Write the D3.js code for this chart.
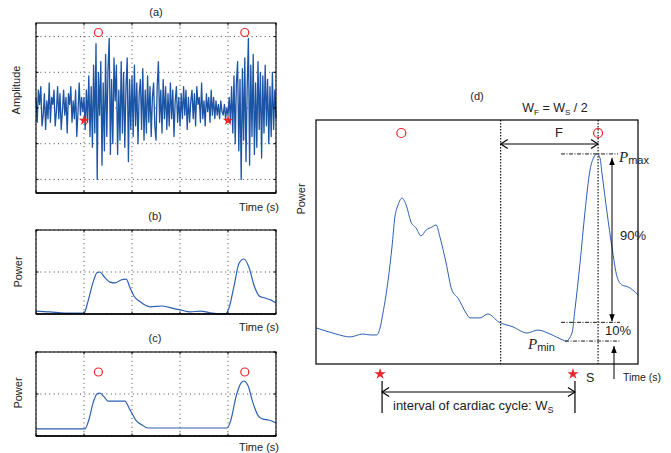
<!DOCTYPE html>
<html>
<head>
<meta charset="utf-8">
<script src="https://cdn.jsdelivr.net/npm/d3@7"></script>
<style>
  body { margin: 0; background: #fff; }
  svg { display: block; font-family: "Liberation Sans", Arial, sans-serif; }
</style>
</head>
<body>
<div id="chart"></div>
<script>
// (a) raw signal, one sample every aStep seconds
const aStep = 0.025;
const aAmp = [
  0.3,-0.4,0.5,0.1,0.6,-0.5,-0.2,0.4,-0.6,0.2,
  -0.3,0.7,-0.4,0.3,0.1,0.5,-0.5,-0.1,0.6,-0.3,
  0.4,-0.6,-0.1,0.5,-0.2,0.3,-0.7,0.4,0.1,0.6,
  -0.4,0.2,-0.3,0.5,-0.8,-0.1,0.7,-0.2,0.3,-0.1,
  0.3,-0.6,0.5,-0.4,0.9,-0.8,0.6,-1.1,1.2,-0.7,
  1.8,-2.0,1.0,-0.2,1.3,-1.6,0.7,-1.2,1.5,-0.8,
  1.1,1.95,-1.3,0.8,-1.0,1.4,0.2,1.2,-1.3,0.5,
  -0.9,1.3,-0.7,1.0,-1.1,0.6,1.4,-1.5,0.8,-0.6,
  0.9,-0.8,1.2,-0.5,0.7,-1.0,0.4,0.8,-0.6,1.1,
  -0.9,0.5,-0.7,0.9,-0.4,0.6,-0.8,0.3,0.7,-0.5,
  -0.9,0.6,1.3,-0.4,0.5,-0.7,0.8,-0.3,0.6,-0.6,
  0.4,-0.5,0.7,-0.3,0.5,-0.8,0.2,0.6,-0.4,0.3,
  -0.5,0.4,-0.3,0.6,-0.2,0.5,-0.6,0.3,-0.4,0.2,
  0.5,-0.3,0.4,-0.5,0.6,0.1,0.3,-0.4,0.7,-0.3,
  0.2,-0.5,0.4,-0.1,0.3,-0.4,0.5,-0.2,0.3,-0.3,
  0.2,-0.2,0.1,-0.3,0.2,-0.1,-0.2,0.1,-0.3,0.0,
  -0.2,0.3,-0.4,0.6,-0.7,0.9,-1.0,0.7,1.3,-1.2,
  0.8,-2.0,1.1,-0.9,1.4,-1.5,0.6,1.95,-1.6,1.2,
  -0.8,1.5,-1.3,0.7,-1.1,1.3,-0.6,1.0,-1.4,0.9,
  -0.7,1.2,-0.5,0.8,-1.0,0.6,-0.8,1.0,-0.6,0.5,
  -0.3
];
const aStars = [1.0, 4.0];
const aCircles = [1.3, 4.35];

// (b) power envelope
const bTime  = [0,0.29,0.6,1.0,1.08,1.19,1.27,1.33,1.44,1.54,1.65,1.77,1.88,1.96,2.04,2.17,2.38,2.63,2.9,3.0,3.21,3.42,3.67,3.94,4.02,4.13,4.23,4.33,4.44,4.54,4.65,4.77,4.9,5.0];
const bPower = [0.07,0.05,0.02,0.02,0.29,0.76,0.98,1.0,0.86,0.76,0.74,0.81,0.83,0.62,0.43,0.29,0.17,0.19,0.12,0.10,0.05,0.07,0.02,0.0,0.14,0.69,1.21,1.31,1.1,0.69,0.43,0.38,0.33,0.26];

// (c) smoothed power
const cTime  = [0,1.02,1.1,1.19,1.27,1.33,1.42,1.5,1.85,1.96,2.08,2.21,2.33,3.98,4.06,4.17,4.27,4.33,4.42,4.52,4.63,4.73,4.85,5.0];
const cPower = [0.17,0.17,0.38,0.79,1.0,1.02,0.93,0.83,0.83,0.62,0.38,0.26,0.19,0.19,0.38,0.95,1.26,1.31,1.19,0.79,0.48,0.40,0.38,0.31];
const cCircles = [1.3, 4.35];

// (d) zoomed power curve
const dTime  = [0,3.1,6.2,10.6,14.6,16.8,18.9,19.9,20.8,22.4,23.6,24.5,25.5,26.7,28.0,29.5,31.1,32.6,34.2,36.0,37.3,38.5,40.4,42.2,44.1,46.6,47.8,50.9,53.4,56.8,61.2,65.5,68.9,72.7,76.7,77.6,79.5,80.4,82.0,83.5,85.1,86.3,87.3,88.2,88.8,90.4,91.9,93.5,95.0,96.9,98.4,100];
const dPower = [14.8,13.5,12.3,11.1,12.3,11.9,11.9,14.8,20.9,34.4,48.0,60.2,65.2,68.0,65.2,58.2,55.7,52.5,54.9,56.1,57.0,52.0,41.4,30.3,27.0,20.9,18.9,18.9,20.5,17.2,15.2,12.7,13.9,12.3,9.8,9.4,12.7,22.1,41.4,61.9,79.5,84.8,86.1,84.4,78.3,61.9,48.0,35.7,32.4,31.6,30.3,28.3];
const dStars = [19.9, 79.8];
const dCircles = [26.5, 87.6];

const blueA = "#1d55a6", blue = "#2c60b2", red = "#e8262b";

const svg = d3.select("#chart").append("svg")
  .attr("width", 671).attr("height", 453);
svg.append("rect").attr("width", 671).attr("height", 453).attr("fill", "#fff");

const defs = svg.append("defs");
defs.append("marker").attr("id", "chev")
  .attr("viewBox", "-9 -6 10 12").attr("refX", 0).attr("refY", 0)
  .attr("markerWidth", 10).attr("markerHeight", 12)
  .attr("markerUnits", "userSpaceOnUse").attr("orient", "auto-start-reverse")
  .append("path").attr("d", "M-7,-4.5 L0,0 L-7,4.5")
  .attr("fill", "none").attr("stroke", "#000").attr("stroke-width", 1.2);
defs.append("marker").attr("id", "tri")
  .attr("viewBox", "-8 -4 9 8").attr("refX", 0).attr("refY", 0)
  .attr("markerWidth", 9).attr("markerHeight", 8)
  .attr("markerUnits", "userSpaceOnUse").attr("orient", "auto-start-reverse")
  .append("path").attr("d", "M-7,-2.8 L0,0 L-7,2.8 Z").attr("fill", "#000");

// MATLAB-like axes: grid, inward ticks, box
function makeAxes(box, xDomain, yDomain, xTicks, yTicks) {
  const x = d3.scaleLinear().domain(xDomain).range([box.x0, box.x1]);
  const y = d3.scaleLinear().domain(yDomain).range([box.y1, box.y0]);
  const g = svg.append("g");
  const grid = g.append("g").attr("stroke", "#333").attr("stroke-width", 0.9)
    .attr("stroke-dasharray", "1,3.4");
  grid.selectAll(".gx").data(xTicks).join("line")
    .attr("x1", d => x(d)).attr("x2", d => x(d))
    .attr("y1", box.y0).attr("y2", box.y1);
  grid.selectAll(".gy").data(yTicks).join("line")
    .attr("x1", box.x0).attr("x2", box.x1)
    .attr("y1", d => y(d)).attr("y2", d => y(d));
  return { g, x, y, box, xTicks, yTicks };
}

function closeAxes(ax) {
  const { g, x, y, box } = ax;
  const t = g.append("g").attr("stroke", "#000").attr("stroke-width", 1);
  ax.xTicks.forEach(d => {
    t.append("line").attr("x1", x(d)).attr("x2", x(d)).attr("y1", box.y1).attr("y2", box.y1 - 2.5);
    t.append("line").attr("x1", x(d)).attr("x2", x(d)).attr("y1", box.y0).attr("y2", box.y0 + 2.5);
  });
  ax.yTicks.forEach(d => {
    t.append("line").attr("x1", box.x0).attr("x2", box.x0 + 2.5).attr("y1", y(d)).attr("y2", y(d));
    t.append("line").attr("x1", box.x1).attr("x2", box.x1 - 2.5).attr("y1", y(d)).attr("y2", y(d));
  });
  g.append("rect").attr("x", box.x0).attr("y", box.y0)
    .attr("width", box.x1 - box.x0).attr("height", box.y1 - box.y0)
    .attr("fill", "none").attr("stroke", "#000").attr("stroke-width", 1.1);
  g.append("line").attr("x1", box.x0).attr("x2", box.x1)
    .attr("y1", box.y1).attr("y2", box.y1).attr("stroke", "#000").attr("stroke-width", 1.6);
}

function label(txt, x, y, size, anchor, rotate) {
  const t = svg.append("text").attr("x", x).attr("y", y)
    .attr("font-size", size).attr("fill", "#222")
    .attr("text-anchor", anchor || "middle").text(txt);
  if (rotate) t.attr("transform", `rotate(-90,${x},${y})`);
  return t;
}

function star(x, y, size) {
  svg.append("path").attr("d", d3.symbol(d3.symbolStar).size(size)())
    .attr("transform", `translate(${x},${y})`).attr("fill", red);
}
function ring(x, y, r) {
  svg.append("circle").attr("cx", x).attr("cy", y).attr("r", r)
    .attr("fill", "none").attr("stroke", red).attr("stroke-width", 1.2);
}

const xTicks5 = [0, 1, 2, 3, 4, 5];

// ---- (a)
const axA = makeAxes({ x0: 36, x1: 276, y0: 23, y1: 193 }, [0, 5], [-2.38, 2.38], xTicks5, [-2, -1, 0, 1, 2]);
axA.g.append("path")
  .attr("d", d3.line().x((d, i) => axA.x(i * aStep)).y(d => axA.y(d))(aAmp))
  .attr("fill", "none").attr("stroke", blueA).attr("stroke-width", 1.3)
  .attr("stroke-linejoin", "round");
closeAxes(axA);
aStars.forEach(d => star(axA.x(d), 120.5, 34));
aCircles.forEach(d => ring(axA.x(d), 32.5, 4));
label("(a)", 156, 16, 11);
label("Amplitude", 20, 90, 11, "middle", true);
label("Time (s)", 279, 211, 11, "end");

// ---- (b)
const lineB = d3.line().curve(d3.curveMonotoneX);
const axB = makeAxes({ x0: 36, x1: 276, y0: 230, y1: 314 }, [0, 5], [0, 2], xTicks5, [0, 1, 2]);
axB.g.append("path")
  .attr("d", lineB(bTime.map((t, i) => [axB.x(t), axB.y(bPower[i])])))
  .attr("fill", "none").attr("stroke", blue).attr("stroke-width", 1.2);
closeAxes(axB);
label("(b)", 155, 220, 11);
label("Power", 22, 272, 11, "middle", true);
label("Time (s)", 279, 331, 11, "end");

// ---- (c)
const axC = makeAxes({ x0: 36, x1: 276, y0: 352, y1: 436 }, [0, 5], [0, 2], xTicks5, [0, 1, 2]);
axC.g.append("path")
  .attr("d", lineB(cTime.map((t, i) => [axC.x(t), axC.y(cPower[i])])))
  .attr("fill", "none").attr("stroke", blue).attr("stroke-width", 1.2);
closeAxes(axC);
cCircles.forEach(d => ring(axC.x(d), 372, 4));
label("(c)", 155, 342, 11);
label("Power", 22, 393, 11, "middle", true);
label("Time (s)", 279, 451, 11, "end");

// ---- (d)
const dBox = { x0: 316, x1: 638, y0: 120, y1: 364 };
const xD = d3.scaleLinear().domain([0, 100]).range([dBox.x0, dBox.x1]);
const yD = d3.scaleLinear().domain([0, 100]).range([dBox.y1, dBox.y0]);

const pMax = d3.max(dPower), pMin = d3.min(dPower);
const p10 = pMin + 0.1 * (pMax - pMin);
const tPeak = dTime[dPower.indexOf(pMax)];
const wS = dStars[1] - dStars[0];
const tF = tPeak - wS / 2;

const gD = svg.append("g");
gD.append("path")
  .attr("d", lineB(dTime.map((t, i) => [xD(t), yD(dPower[i])])))
  .attr("fill", "none").attr("stroke", blue).attr("stroke-width", 1);
[tF, dCircles[1]].forEach(t => {
  gD.append("line").attr("x1", xD(t)).attr("x2", xD(t))
    .attr("y1", dBox.y0).attr("y2", dBox.y1)
    .attr("stroke", "#000").attr("stroke-width", 1.1).attr("stroke-dasharray", "1.5,1.5");
});
gD.append("rect").attr("x", dBox.x0).attr("y", dBox.y0)
  .attr("width", dBox.x1 - dBox.x0).attr("height", dBox.y1 - dBox.y0)
  .attr("fill", "none").attr("stroke", "#000").attr("stroke-width", 1.2);

dCircles.forEach(d => ring(xD(d), 133, 4.5));

// F window arrow
gD.append("line").attr("x1", xD(tF)).attr("x2", xD(dCircles[1]))
  .attr("y1", 144).attr("y2", 144).attr("stroke", "#000").attr("stroke-width", 1.2)
  .attr("marker-start", "url(#chev)").attr("marker-end", "url(#chev)");
label("F", 559, 137, 13);

// Pmax / 10% / Pmin levels
const dashDot = "4,1.5,1,1.5";
[[pMax, 561, 618], [p10, 561, 620], [pMin, 565, 620]].forEach(([v, a, b]) => {
  gD.append("line").attr("x1", a).attr("x2", b).attr("y1", yD(v)).attr("y2", yD(v))
    .attr("stroke", "#000").attr("stroke-width", 0.9).attr("stroke-dasharray", dashDot);
});
gD.append("line").attr("x1", 612).attr("x2", 612)
  .attr("y1", yD(pMax) + 4).attr("y2", yD(p10) - 1)
  .attr("stroke", "#000").attr("stroke-width", 1)
  .attr("marker-start", "url(#tri)").attr("marker-end", "url(#tri)");
gD.append("line").attr("x1", 614).attr("x2", 614).attr("y1", 379).attr("y2", yD(pMin) + 5)
  .attr("stroke", "#000").attr("stroke-width", 1).attr("marker-end", "url(#tri)");

const pm = svg.append("text").attr("x", 619).attr("y", 162).attr("fill", "#222");
pm.append("tspan").attr("font-family", "'Liberation Serif', 'DejaVu Serif', serif")
  .attr("font-style", "italic").attr("font-size", 15).text("P");
pm.append("tspan").attr("font-size", 11).attr("dy", 2).text("max");
const pn = svg.append("text").attr("x", 528).attr("y", 349).attr("fill", "#222");
pn.append("tspan").attr("font-family", "'Liberation Serif', 'DejaVu Serif', serif")
  .attr("font-style", "italic").attr("font-size", 15).text("P");
pn.append("tspan").attr("font-size", 11).attr("dy", 2).text("min");

label("90%", 620, 240, 13, "start");
label("10%", 605, 335, 13, "start");
label("(d)", 477, 100, 11);
label("Power", 305, 199, 11, "middle", true);
label("Time (s)", 623, 381, 10.5, "start");
label("S", 586, 382, 12.5, "start");

const wf = svg.append("text").attr("x", 555).attr("y", 112).attr("font-size", 12.5)
  .attr("fill", "#222").attr("text-anchor", "middle");
wf.append("tspan").text("W");
wf.append("tspan").attr("font-size", 8).attr("dy", 3).text("F");
wf.append("tspan").attr("dy", -3).text(" = W");
wf.append("tspan").attr("font-size", 8).attr("dy", 3).text("S");
wf.append("tspan").attr("dy", -3).text(" / 2");

// cardiac cycle interval
dStars.forEach(d => {
  star(xD(d), 374, 40);
  gD.append("line").attr("x1", xD(d) + 2).attr("x2", xD(d) + 2).attr("y1", 381).attr("y2", 413)
    .attr("stroke", "#000").attr("stroke-width", 1.2);
});
gD.append("line").attr("x1", xD(dStars[0]) + 2).attr("x2", xD(dStars[1]) + 2)
  .attr("y1", 392).attr("y2", 392).attr("stroke", "#000").attr("stroke-width", 1.2)
  .attr("marker-start", "url(#chev)").attr("marker-end", "url(#chev)");
const iv = svg.append("text").attr("x", 393).attr("y", 410).attr("font-size", 13)
  .attr("fill", "#222");
iv.append("tspan").text("interval of cardiac cycle: W");
iv.append("tspan").attr("font-size", 9).attr("dy", 3).text("S");
</script>
</body>
</html>
